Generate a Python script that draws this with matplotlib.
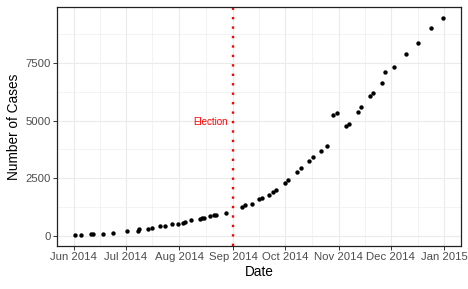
import matplotlib
matplotlib.use("Agg")
import matplotlib.pyplot as plt
import matplotlib.dates as mdates
import numpy as np
import pandas as pd

plt.rcParams['font.family'] = ['Liberation Sans', 'DejaVu Sans']

dates = ["2014-06-02", "2014-06-05", "2014-06-11", "2014-06-12", "2014-06-18",
         "2014-06-24", "2014-07-02", "2014-07-08", "2014-07-09", "2014-07-14",
         "2014-07-16", "2014-07-21", "2014-07-24", "2014-07-28", "2014-07-31",
         "2014-08-03", "2014-08-04", "2014-08-08", "2014-08-13", "2014-08-14",
         "2014-08-15", "2014-08-19", "2014-08-21", "2014-08-22", "2014-08-28",
         "2014-09-06", "2014-09-08", "2014-09-12", "2014-09-16", "2014-09-18",
         "2014-09-22", "2014-09-24", "2014-09-26", "2014-10-01", "2014-10-03",
         "2014-10-08", "2014-10-10", "2014-10-15", "2014-10-17", "2014-10-22",
         "2014-10-25", "2014-10-29", "2014-10-31", "2014-11-05", "2014-11-07",
         "2014-11-12", "2014-11-14", "2014-11-19", "2014-11-21", "2014-11-26",
         "2014-11-28", "2014-12-03", "2014-12-10", "2014-12-17", "2014-12-24",
         "2014-12-31"]
cases = [30, 43, 87, 100, 74,
         117, 208, 230, 290, 316,
         346, 420, 433, 507, 507,
         576, 619, 693, 727, 766,
         792, 844, 888, 918, 1005,
         1243, 1334, 1399, 1593, 1654,
         1788, 1918, 2005, 2273, 2416,
         2763, 2931, 3248, 3399, 3689,
         3875, 5226, 5339, 4754, 4858,
         5360, 5577, 6083, 6183, 6612,
         7101, 7309, 7894, 8348, 9006,
         9452]
election_date = "2014-09-01"
election_label = "Election"
election_label_y = 4950
x_tick_dates = ["2014-06-01", "2014-07-01", "2014-08-01", "2014-09-01",
                "2014-10-01", "2014-11-01", "2014-12-01", "2015-01-01"]
y_ticks = [0, 2500, 5000, 7500]
y_minor = [1250, 3750, 6250, 8750]

x = mdates.date2num(pd.to_datetime(dates))
y = np.array(cases, dtype=float)
xt = mdates.date2num(pd.to_datetime(x_tick_dates))
xminor = (xt[:-1] + xt[1:]) / 2
ed = mdates.date2num(pd.to_datetime(election_date))

fig = plt.figure(figsize=(4.68, 2.89), dpi=100)
ax = fig.add_axes([57/468, 1-246/289, (461-57)/468, (246-7)/289])

xr = x.max() - x.min()
yr = y.max() - y.min()
ax.set_xlim(x.min() - 0.05*xr, x.max() + 0.05*xr)
ax.set_ylim(y.min() - 0.05*yr, y.max() + 0.05*yr)

ax.set_xticks(xt)
ax.set_xticklabels([pd.Timestamp(d).strftime("%b %Y") for d in x_tick_dates])
ax.set_xticks(xminor, minor=True)
ax.set_yticks(y_ticks)
ax.set_yticklabels([str(v) for v in y_ticks])
ax.set_yticks(y_minor, minor=True)

ax.grid(True, which='major', color='#EBEBEB', linewidth=0.8)
ax.grid(True, which='minor', color='#EBEBEB', linewidth=0.4)
ax.set_axisbelow(True)

ax.tick_params(which='major', length=2.6, width=0.7, color='#333333',
               labelsize=8.2, labelcolor='#4D4D4D', pad=2)
ax.tick_params(which='minor', length=0)

for s in ax.spines.values():
    s.set_color('#222222')
    s.set_linewidth(0.9)

ax.axvline(ed, color='#FF0000', linewidth=1.7, linestyle=(0, (1, 3)),
           dash_capstyle='butt', zorder=2)
ax.annotate(election_label, xy=(ed, election_label_y), xytext=(-4, 0),
            textcoords='offset points', ha='right', va='center',
            color='#FF0000', fontsize=7)

ax.scatter(x, y, s=10, color='black', zorder=3, linewidths=0)

ax.set_xlabel("Date", fontsize=9.8, labelpad=2)
ax.set_ylabel("Number of Cases", fontsize=9.8, labelpad=3)

fig.savefig("out.png", dpi=100)
